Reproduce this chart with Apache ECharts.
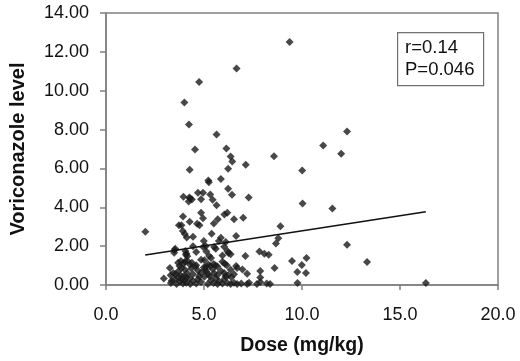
<!DOCTYPE html>
<html>
<head>
<meta charset="utf-8">
<script src="https://cdn.jsdelivr.net/npm/echarts@6/dist/echarts.min.js"></script>
<style>
  html, body { margin: 0; padding: 0; background: #fff; }
  #main { width: 520px; height: 361px; }
</style>
</head>
<body>
<div id="main"></div>
<script>
// dose (mg/kg) and matching voriconazole level
var dose = [
  9.37, 6.66, 4.75, 4.00, 4.23, 5.64, 12.30, 11.08, 12.00, 4.54, 6.14, 8.57, 6.36, 6.44, 7.13,
  4.27, 6.23, 10.01, 5.22, 5.25, 5.86, 6.23, 6.43, 7.28, 3.95, 4.25, 4.30, 4.38, 4.22, 4.69,
  4.95, 5.32, 5.44, 4.85, 5.64, 10.03, 11.55, 4.85, 4.95, 3.93, 4.27, 4.65, 4.77, 3.72, 3.85,
  5.70, 5.50, 6.04, 6.19, 6.53, 7.00, 8.90, 3.92, 4.02, 4.12, 2.01, 4.44, 5.39, 6.64, 8.79,
  8.67, 12.30, 4.99, 5.09, 4.96, 5.86, 5.76, 6.11, 6.03, 5.52, 5.60, 3.53, 3.48, 4.05, 4.08,
  4.44, 6.19, 6.36, 7.83, 8.08, 8.30, 7.11, 9.49, 10.23, 13.32, 5.26, 5.36, 3.82, 3.68, 3.75,
  3.26, 9.99, 9.76, 10.20, 8.60, 7.87, 7.87, 6.96, 6.64, 6.69, 2.95, 9.77, 16.32,
  3.50, 4.10, 4.15, 4.60, 5.12, 6.25, 5.94, 4.02,
  3.95, 4.15, 4.28, 4.38, 4.60, 5.02, 5.12, 5.22, 5.32, 5.49, 5.59, 5.69, 5.94, 6.06, 6.16, 4.85,
  3.43, 3.55, 3.68, 3.80, 3.85, 4.02, 4.15, 4.35, 4.44, 4.69, 4.85, 4.99, 5.12, 5.22, 5.44, 5.52,
  5.69, 5.86, 6.03, 6.23, 6.36, 6.53, 7.20, 3.30, 4.55, 5.05,
  3.31, 3.35, 3.51, 3.68, 3.77, 3.85, 3.93, 4.02, 4.10, 4.27, 4.44, 4.60, 4.69, 4.85, 5.02, 5.19,
  5.36, 5.49, 5.61, 5.69, 5.77, 5.94, 6.03, 6.19, 6.36, 6.53, 6.69, 6.90, 7.20, 7.30, 7.70, 7.87,
  8.20, 8.37, 3.95, 4.10, 4.75, 5.30, 6.40, 6.10, 3.60, 4.30
];
var level = [
  12.51, 11.14, 10.45, 9.39, 8.26, 7.75, 7.90, 7.18, 6.75, 6.97, 7.03, 6.63, 6.61, 6.36, 6.19,
  5.93, 5.98, 5.89, 5.38, 5.29, 5.45, 4.95, 4.64, 4.51, 4.54, 4.50, 4.45, 4.40, 4.30, 4.75,
  4.75, 4.66, 4.39, 4.42, 4.11, 4.20, 3.94, 3.72, 3.44, 3.53, 3.26, 3.15, 3.08, 3.08, 3.08,
  3.38, 3.17, 3.63, 3.72, 3.38, 3.46, 3.02, 2.78, 2.62, 2.45, 2.74, 2.48, 2.64, 2.52, 2.40,
  2.14, 2.07, 2.26, 2.00, 1.95, 2.43, 2.26, 2.21, 1.97, 1.95, 1.87, 1.87, 1.66, 1.75, 1.56,
  2.00, 1.75, 1.58, 1.73, 1.61, 1.56, 1.49, 1.23, 1.39, 1.18, 1.49, 1.39, 1.23, 1.15, 0.98,
  0.87, 1.03, 0.67, 0.62, 0.87, 0.72, 0.38, 0.80, 0.98, 0.87, 0.33, 0.10, 0.10,
  1.80, 1.62, 1.48, 1.70, 1.72, 1.65, 1.52, 1.20,
  1.10, 1.25, 1.05, 1.15, 1.02, 1.28, 0.95, 1.05, 0.98, 1.08, 1.00, 0.95, 1.20, 1.10, 1.02, 1.30,
  0.62, 0.55, 0.70, 0.50, 0.88, 0.78, 0.60, 0.85, 0.55, 0.75, 0.62, 0.90, 0.70, 0.55, 0.82, 0.60,
  0.52, 0.72, 0.62, 0.50, 0.78, 0.55, 0.58, 0.50, 0.95, 0.80,
  0.10, 0.22, 0.30, 0.40, 0.18, 0.30, 0.08, 0.25, 0.12, 0.35, 0.20, 0.08, 0.30, 0.15, 0.42, 0.05,
  0.25, 0.10, 0.35, 0.05, 0.18, 0.08, 0.30, 0.10, 0.05, 0.12, 0.05, 0.08, 0.05, 0.12, 0.05, 0.15,
  0.08, 0.05, 0.45, 0.40, 0.45, 0.45, 0.40, 0.45, 0.05, 0.05
];
// fitted line end points
var fitX = [2.0, 16.32];
var fitY = [1.54, 3.77];

var chartDom = document.getElementById('main');
var myChart = echarts.init(chartDom);
var option;

var points = dose.map(function (d, i) { return [d, level[i]]; });
var fitLine = fitX.map(function (d, i) { return [d, fitY[i]]; });

var fontFam = '"Liberation Sans", Arial, sans-serif';

option = {
  animation: false,
  backgroundColor: '#ffffff',
  grid: {
    left: 100,
    right: 22,
    top: 13,
    bottom: 75,
    show: true,
    borderColor: '#808080',
    borderWidth: 1.5
  },
  xAxis: {
    type: 'value',
    min: 0,
    max: 20,
    interval: 5,
    name: 'Dose (mg/kg)',
    nameLocation: 'middle',
    nameGap: 51,
    nameTextStyle: { fontFamily: fontFam, fontSize: 19.5, fontWeight: 'bold', color: '#111' },
    axisLine: { lineStyle: { color: '#808080', width: 1.5 } },
    axisTick: { show: true, length: 5, lineStyle: { color: '#808080', width: 1.5 } },
    axisLabel: {
      fontFamily: fontFam, fontSize: 18, color: '#111', margin: 21,
      formatter: function (v) { return v.toFixed(1); }
    },
    splitLine: { show: false }
  },
  yAxis: {
    type: 'value',
    min: 0,
    max: 14,
    interval: 2,
    name: 'Voriconazole level',
    nameLocation: 'middle',
    nameGap: 78,
    nameTextStyle: { fontFamily: fontFam, fontSize: 20, fontWeight: 'bold', color: '#111' },
    axisLine: { show: true, lineStyle: { color: '#808080', width: 1.5 } },
    axisTick: { show: true, length: 6, lineStyle: { color: '#808080', width: 1.5 } },
    axisLabel: {
      fontFamily: fontFam, fontSize: 18, color: '#111', margin: 17,
      formatter: function (v) { return v.toFixed(2); }
    },
    splitLine: { show: false }
  },
  series: [
    {
      type: 'scatter',
      data: points,
      symbol: 'diamond',
      symbolSize: 8,
      itemStyle: { color: '#1a1a1a' },
      z: 3
    },
    {
      type: 'line',
      data: fitLine,
      showSymbol: false,
      symbol: 'none',
      lineStyle: { color: '#111', width: 1.5 },
      z: 4
    }
  ],
  graphic: [
    {
      type: 'rect',
      left: 397,
      top: 32,
      shape: { width: 86, height: 53 },
      style: { fill: '#fff', stroke: '#707070', lineWidth: 1.2 }
    },
    {
      type: 'text',
      left: 405,
      top: 37,
      style: {
        text: 'r=0.14\nP=0.046',
        font: '18.5px ' + fontFam,
        fill: '#111',
        lineHeight: 22
      }
    }
  ]
};

option && myChart.setOption(option);
</script>
</body>
</html>
